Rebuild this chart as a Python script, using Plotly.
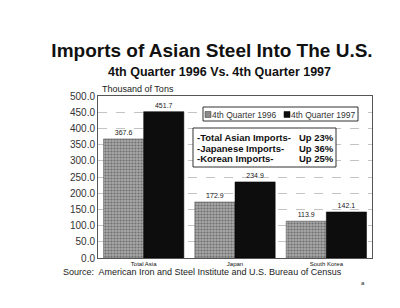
import plotly.graph_objects as go

categories = ["Total Asia", "Japan", "South Korea"]
q4_1996 = [367.6, 172.9, 113.9]
q4_1997 = [451.7, 234.9, 142.1]
labels_1996 = ["367.6", "172.9", "113.9"]
labels_1997 = ["451.7", "234.9", "142.1"]
series_names = ["4th Quarter 1996", "4th Quarter 1997"]
summary_left = ["-Total Asian Imports-", "-Japanese Imports-", "-Korean Imports-"]
summary_right = ["Up 23%", "Up 36%", "Up 25%"]
yticks = [0, 50, 100, 150, 200, 250, 300, 350, 400, 450, 500]

L, T, W, H = 98, 96, 274, 162
def px(x):
    return (x - L) / W
def py(y):
    return (T + H - y) / H

fig = go.Figure()
fig.add_trace(go.Bar(
    x=categories, y=q4_1996, name=series_names[0], showlegend=False,
    marker=dict(color="#9a9a9a", line=dict(color="#555", width=0.5),
                pattern=dict(shape=".", fgcolor="#333", bgcolor="#a8a8a8", size=3, solidity=0.4)),
    text=labels_1996, textposition="outside",
    textfont=dict(size=7, color="#222", family="Liberation Sans"), cliponaxis=False,
))
fig.add_trace(go.Bar(
    x=categories, y=q4_1997, name=series_names[1], showlegend=False,
    marker=dict(color="#0d0d0d", line=dict(color="#000", width=0.5)),
    text=labels_1997, textposition="outside",
    textfont=dict(size=7, color="#222", family="Liberation Sans"), cliponaxis=False,
))

fig.update_layout(
    width=400, height=308,
    margin=dict(l=L, r=400 - L - W, t=T, b=308 - T - H),
    paper_bgcolor="white", plot_bgcolor="white",
    barmode="group", bargap=0.12, bargroupgap=0,
    font=dict(family="Liberation Sans", color="#222"),
    showlegend=False,
    title=dict(text="<b>Imports of Asian Steel Into The U.S.</b>",
               x=0.53, xanchor="center", y=0.838, yanchor="middle",
               font=dict(size=19, color="#111", family="Liberation Sans")),
)
fig.update_yaxes(range=[0, 500], tickvals=yticks,
                 ticktext=[f"{v:.1f}" for v in yticks],
                 tickfont=dict(size=10, color="#333"),
                 showgrid=True, gridcolor="#c4c4c4", griddash="dash", gridwidth=0.6,
                 showline=True, linecolor="#555", linewidth=1, mirror=True,
                 ticks="", zeroline=False)
fig.update_xaxes(tickfont=dict(size=6, color="#111", family="Liberation Sans"),
                 showline=True, linecolor="#555", linewidth=1, mirror=True,
                 ticks="")

# subtitle
fig.add_annotation(text="<b>4th Quarter 1996 Vs. 4th Quarter 1997</b>",
                   xref="paper", yref="paper", x=px(219), y=py(72),
                   xanchor="center", yanchor="middle", showarrow=False,
                   font=dict(size=12.5, color="#111"))
fig.add_annotation(text="Thousand of Tons", xref="paper", yref="paper",
                   x=px(100), y=py(89), xanchor="left", yanchor="middle", showarrow=False,
                   font=dict(size=9, color="#222"))

# legend (manual box)
fig.add_shape(type="rect", xref="paper", yref="paper",
              x0=px(203), x1=px(358), y0=py(121), y1=py(107),
              line=dict(color="#333", width=1), fillcolor="white")
fig.add_shape(type="rect", xref="paper", yref="paper",
              x0=px(205), x1=px(211), y0=py(117.5), y1=py(111.5),
              line=dict(color="#333", width=0.5), fillcolor="#8a8a8a")
fig.add_annotation(text=series_names[0], xref="paper", yref="paper",
                   x=px(210), y=py(114.5), xanchor="left", yanchor="middle", showarrow=False,
                   font=dict(size=8.5, color="#333"))
fig.add_shape(type="rect", xref="paper", yref="paper",
              x0=px(284), x1=px(290), y0=py(117.5), y1=py(111.5),
              line=dict(color="#000", width=0.5), fillcolor="#0d0d0d")
fig.add_annotation(text=series_names[1], xref="paper", yref="paper",
                   x=px(289), y=py(114.5), xanchor="left", yanchor="middle", showarrow=False,
                   font=dict(size=8.5, color="#333"))

# summary box
fig.add_shape(type="rect", xref="paper", yref="paper",
              x0=px(193), x1=px(336), y0=py(167), y1=py(128),
              line=dict(color="#333", width=1), fillcolor="white")
for i, (l, r) in enumerate(zip(summary_left, summary_right)):
    yy = py(137.5 + i * 10.5)
    fig.add_annotation(text=f"<b>{l}</b>", xref="paper", yref="paper",
                       x=px(195), y=yy, xanchor="left", yanchor="middle", showarrow=False,
                       font=dict(size=9.5, color="#111"))
    fig.add_annotation(text=f"<b>{r}</b>", xref="paper", yref="paper",
                       x=px(297), y=yy, xanchor="left", yanchor="middle", showarrow=False,
                       font=dict(size=9.5, color="#111"))

fig.add_annotation(text="Source:  American Iron and Steel Institute and U.S. Bureau of Census",
                   xref="paper", yref="paper", x=px(61), y=py(272),
                   xanchor="left", yanchor="middle", showarrow=False,
                   font=dict(size=9, color="#222"))
fig.add_annotation(text="a", xref="paper", yref="paper", x=px(363), y=py(283),
                   xanchor="center", yanchor="middle", showarrow=False,
                   font=dict(size=6, color="#222"))

fig.write_html("out.html")
